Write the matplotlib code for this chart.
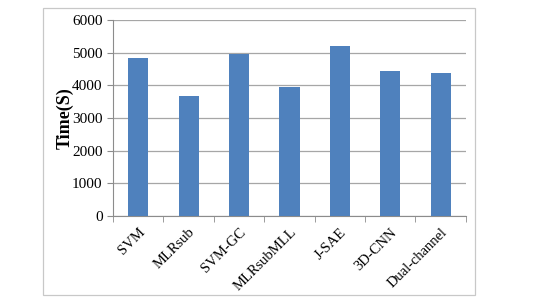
import numpy as np
import matplotlib.pyplot as plt
from matplotlib.patches import Rectangle

# data
methods = ['SVM', 'MLRsub', 'SVM-GC', 'MLRsubMLL', 'J-SAE', '3D-CNN', 'Dual-channel']
times = [4820, 3660, 4970, 3960, 5210, 4440, 4380]

plt.rcParams['font.family'] = ['Liberation Serif', 'DejaVu Serif']

fig = plt.figure(figsize=(5.38, 3.02), dpi=100)
ax = fig.add_axes([0.210, 0.285, 0.656, 0.649])

# kader rond de grafiek
fig.patches.append(Rectangle((43/538, 1-295/302), 432/538, 287/302, transform=fig.transFigure,
                             fill=False, edgecolor='#c8c8c8', linewidth=0.9))

x = np.arange(len(methods))
ax.bar(x, times, width=0.4, color='#4f81bd', zorder=3)

ax.set_xlim(-0.5, len(methods) - 0.5)
ax.set_ylim(0, 6000)
ax.set_yticks(np.arange(0, 6001, 1000))
ax.yaxis.grid(True, color='#a6a6a6', linewidth=0.9, zorder=0)

ax.set_xticks(x)
ax.set_xticklabels(methods, rotation=45, ha='right', rotation_mode='anchor', fontsize=10.5)
ax.set_xticks(np.arange(-0.5, len(methods)), minor=True)
ax.tick_params(axis='x', which='major', length=0, pad=7)
ax.tick_params(axis='x', which='minor', length=4, color='#8c8c8c')
ax.tick_params(axis='y', length=4, color='#8c8c8c', labelsize=11)

for s in ['top', 'right']:
    ax.spines[s].set_visible(False)
for s in ['left', 'bottom']:
    ax.spines[s].set_color('#8c8c8c')

ax.set_ylabel('Time(S)', fontsize=13, fontweight='bold', labelpad=-1)

fig.savefig('out.png', dpi=100)
